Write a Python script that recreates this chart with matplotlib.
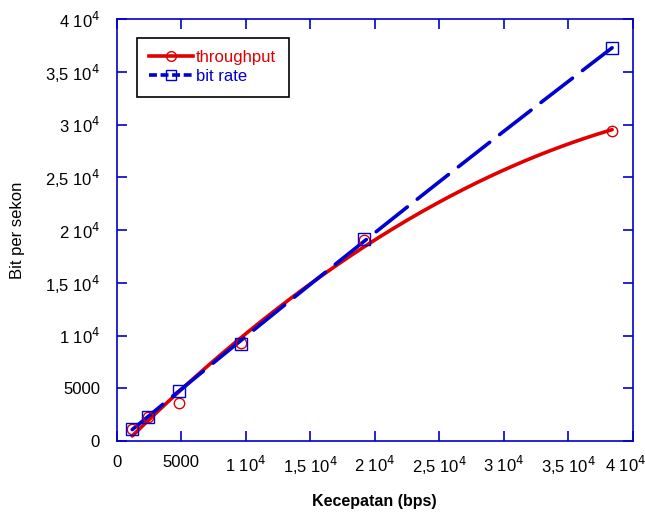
import numpy as np
from matplotlib import pyplot as plt

plt.rcParams['font.family'] = ['Liberation Sans', 'DejaVu Sans']

# ------------------------------------------------------------
# data
kecepatan = [1200, 2400, 4800, 9600, 19200, 38400]
throughput = [1140, 2280, 3600, 9300, 19100, 29400]
bit_rate = [1200, 2300, 4750, 9250, 19150, 37250]

xticks = [0, 5000, 10000, 15000, 20000, 25000, 30000, 35000, 40000]
ticklabels = ['0', '5000', r'1 10$^4$', r'1,5 10$^4$', r'2 10$^4$',
              r'2,5 10$^4$', r'3 10$^4$', r'3,5 10$^4$', r'4 10$^4$']

red = '#e00000'
blue = '#0000d0'

# ------------------------------------------------------------
# curve fits through the points (as in the original plot)
xs = np.linspace(kecepatan[0], kecepatan[-1], 200)
fit_tp = np.polyval(np.polyfit(kecepatan, throughput, 2), xs)
fit_br = np.polyval(np.polyfit(kecepatan, bit_rate, 2), xs)

fig = plt.figure(figsize=(6.45, 5.16), dpi=100)
ax = fig.add_axes([0.181, 0.145, 0.8, 0.818])

ax.plot(xs, fit_tp, color=red, lw=2.6, solid_capstyle='round')
ax.plot(xs, fit_br, color=blue, lw=2.6, dashes=(11, 3.5),
        dash_capstyle='round')
ax.plot(kecepatan, throughput, 'o', ms=7.5, mfc='none', mec=red, mew=1)
ax.plot(kecepatan, bit_rate, 's', ms=8, mfc='none', mec=blue, mew=1)

# legend handles
h1, = ax.plot([], [], color=red, lw=2.6, marker='o', ms=7, mfc='none',
              mec=red, mew=1)
h2, = ax.plot([], [], color=blue, lw=2.6, dashes=(2.2, 1.0), marker='s',
              ms=7, mfc='none', mec=blue, mew=1)
leg = ax.legend([h1, h2], ['throughput', 'bit rate'], loc='upper left',
                bbox_to_anchor=(0.039, 0.956), fontsize=12, fancybox=False,
                framealpha=1, edgecolor='black', handlelength=2.6,
                handletextpad=0.2, borderpad=0.75, labelspacing=0.25,
                borderaxespad=0)
leg.get_frame().set_linewidth(1.2)
leg.get_texts()[0].set_color(red)
leg.get_texts()[1].set_color(blue)

ax.set_xlim(0, 40000)
ax.set_ylim(0, 40000)
ax.set_xticks(xticks)
# the last x label sits against the figure edge: draw it by hand, nudged left
ax.set_xticklabels(ticklabels[:-1] + [''])
ax.annotate(ticklabels[-1], xy=(xticks[-1], 0),
            xycoords=('data', 'axes fraction'), xytext=(-5, -10),
            textcoords='offset points', ha='center', va='top', fontsize=12)
ax.set_yticks(xticks)
ax.set_yticklabels(ticklabels)

for s in ax.spines.values():
    s.set_color(blue)
    s.set_linewidth(1.2)
ax.tick_params(direction='in', length=7, width=1.2, color=blue,
               top=True, right=True, labelsize=12, pad=10)
ax.tick_params(axis='y', pad=12)

ax.set_xlabel('Kecepatan (bps)', fontsize=11.5, fontweight='bold',
              va='center')
ax.xaxis.set_label_coords(0.5, -0.142)
ax.set_ylabel('Bit per sekon', fontsize=12, va='center')
ax.yaxis.set_label_coords(-0.192, 0.5)

plt.savefig('out.png', dpi=100)
